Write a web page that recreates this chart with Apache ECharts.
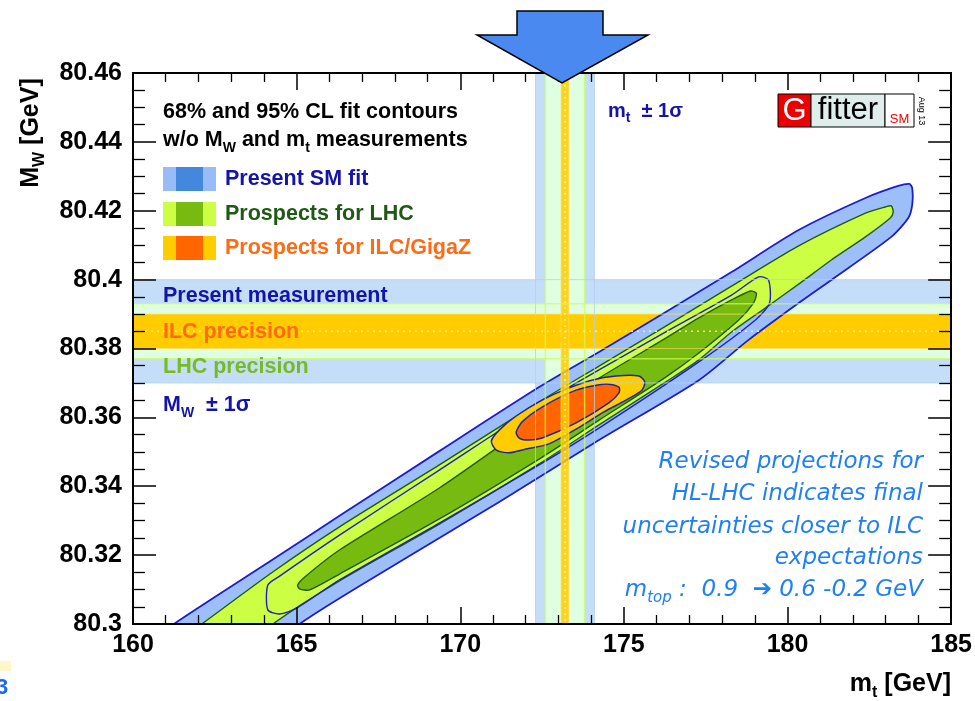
<!DOCTYPE html>
<html><head><meta charset="utf-8">
<script src="https://cdn.jsdelivr.net/npm/echarts@6/dist/echarts.min.js"></script>
<style>html,body{margin:0;padding:0;background:#fff}#c{width:975px;height:701px}</style>
</head><body><div id="c"></div>
<script>
// ---- axis ranges / ticks ----
const xRange = [160, 185];
const yRange = [80.30, 80.46];
const xTickStep = 5;
const yTickStep = 0.02;

// ---- measurement bands ----
const mwCenter = 80.385;
const mwErrPresent = 0.015;
const mwErrLHC = 0.008;
const mwErrILC = 0.005;
const mtCenter = 173.2;
const mtErrPresent = 0.9;
const mtErrLHC = 0.6;
const mtErrILC = 0.12;

// ---- fit contours [mt, MW] ----
const smFit95 = [[160.67,80.2954],[161.25,80.3000],[164.27,80.3187],[166.31,80.3314],[169.36,80.3502],[172.41,80.3688],[174.24,80.3790],[176.28,80.3906],[178.29,80.4022],[180.34,80.4144],[182.38,80.4237],[183.38,80.4272],[183.72,80.4278],[183.81,80.4266],[183.81,80.4217],[183.69,80.4179],[183.17,80.4124],[181.34,80.3999],[180.34,80.3932],[178.81,80.3825],[177.29,80.3708],[174.24,80.3534],[171.19,80.3354],[168.14,80.3180],[165.09,80.3000],[164.79,80.2954]];
const smFit68 = [[164.12,80.3041],[164.12,80.3113],[164.48,80.3139],[166.31,80.3258],[169.36,80.3447],[172.41,80.3636],[174.24,80.3738],[176.28,80.3848],[178.29,80.3955],[179.12,80.4008],[179.42,80.3999],[179.45,80.3932],[179.02,80.3883],[177.29,80.3761],[174.24,80.3569],[172.41,80.3462],[169.36,80.3293],[166.31,80.3128],[165.00,80.3046],[164.48,80.3029]];
const lhc95 = [[161.43,80.2954],[162.10,80.3000],[164.27,80.3151],[166.31,80.3282],[169.36,80.3462],[172.41,80.3645],[174.24,80.3749],[176.28,80.3865],[178.29,80.3981],[180.34,80.4098],[182.38,80.4193],[182.99,80.4211],[183.17,80.4214],[183.23,80.4196],[183.14,80.4179],[182.38,80.4124],[181.34,80.4057],[180.34,80.3987],[179.33,80.3918],[178.29,80.3848],[177.29,80.3767],[176.28,80.3703],[174.24,80.3578],[172.41,80.3465],[169.36,80.3290],[166.31,80.3125],[164.27,80.3000],[163.76,80.2954]];
const lhc68 = [[165.03,80.3113],[165.24,80.3136],[166.31,80.3215],[169.36,80.3395],[172.41,80.3598],[174.24,80.3714],[176.28,80.3830],[177.29,80.3889],[178.29,80.3941],[178.87,80.3967],[179.05,80.3960],[178.96,80.3932],[178.51,80.3883],[177.29,80.3787],[176.28,80.3717],[174.24,80.3592],[172.41,80.3479],[169.36,80.3305],[166.31,80.3145],[165.40,80.3099],[165.09,80.3102]];
const ilc95 = [[170.95,80.3531],[171.10,80.3505],[171.49,80.3497],[172.01,80.3508],[172.71,80.3523],[173.54,80.3566],[174.39,80.3616],[175.06,80.3650],[175.55,80.3679],[175.64,80.3703],[175.46,80.3720],[174.76,80.3720],[174.02,80.3708],[173.23,80.3682],[172.50,80.3650],[171.71,80.3604],[171.19,80.3563]];
const ilc68 = [[171.71,80.3557],[171.80,80.3540],[172.10,80.3534],[172.50,80.3540],[173.54,80.3584],[174.54,80.3642],[174.85,80.3671],[174.85,80.3688],[174.45,80.3697],[173.54,80.3679],[172.50,80.3630],[171.89,80.3587]];

const FONT = 'Liberation Sans, Arial, Helvetica, sans-serif';
const BLUE_TXT = '#1414a8';
const ANN = '#1f7ff5';

function clipOf(cs){ return {type:'rect', shape:{x:cs.x, y:cs.y, width:cs.width, height:cs.height}}; }

function polySeries(pts, fill, stroke, lw, z){
  return {type:'custom', z, data: pts, encode:{x:0,y:1}, silent:true, animation:false,
    renderItem(params, api){
      if (params.dataIndex !== 0) return null;
      return {type:'polygon', shape:{points: pts.map(p => api.coord(p)), smooth:0.25},
        style:{fill: fill || 'none', stroke: stroke, lineWidth: lw},
        clipPath: clipOf(params.coordSys)};
    }};
}
// band: dir 'h' (MW) or 'v' (mt)
function bandSeries(dir, lo, hi, fill, opacity, z){
  return {type:'custom', z, data:[[lo,hi]], silent:true, animation:false,
    renderItem(params, api){
      const cs = params.coordSys;
      let shape;
      if (dir === 'h'){
        const y1 = api.coord([xRange[0], hi])[1], y2 = api.coord([xRange[0], lo])[1];
        shape = {x:cs.x, y:y1, width:cs.width, height:y2-y1};
      } else {
        const x1 = api.coord([lo, yRange[0]])[0], x2 = api.coord([hi, yRange[0]])[0];
        shape = {x:x1, y:cs.y, width:x2-x1, height:cs.height};
      }
      return {type:'rect', shape, style:{fill, opacity}, clipPath: clipOf(cs)};
    }};
}
function lineSeries(dir, vals, color, lw, dash, opacity, z){
  return {type:'custom', z, data: vals.map(v => [v]), silent:true, animation:false,
    renderItem(params, api){
      const cs = params.coordSys, v = api.value(0);
      let shape;
      if (dir === 'h'){ const y = api.coord([xRange[0], v])[1]; shape = {x1:cs.x, y1:y, x2:cs.x+cs.width, y2:y}; }
      else { const x = api.coord([v, yRange[0]])[0]; shape = {x1:x, y1:cs.y, x2:x, y2:cs.y+cs.height}; }
      return {type:'line', shape, style:{stroke:color, lineWidth:lw, lineDash: dash, opacity}, clipPath: clipOf(cs)};
    }};
}

const series = [
  bandSeries('h', mwCenter-mwErrPresent, mwCenter+mwErrPresent, '#c4def9', 1, 1),
  bandSeries('v', mtCenter-mtErrPresent, mtCenter+mtErrPresent, '#c4def9', 1, 1),
  bandSeries('h', mwCenter-mwErrLHC, mwCenter+mwErrLHC, '#e0ffe0', 1, 1),
  bandSeries('v', mtCenter-mtErrLHC, mtCenter+mtErrLHC, '#e0ffe0', 1, 1),
  bandSeries('h', mwCenter-mwErrILC, mwCenter+mwErrILC, '#ffcc00', 1, 1),
  polySeries(smFit95, '#9dbff9', '#1c1cd0', 1.8, 2),
  polySeries(lhc95, '#ccff44', '#1e5a14', 1.4, 2),
  polySeries(lhc68, '#77bb11', '#1e5a14', 1.4, 2),
  polySeries(smFit68, null, '#2020c0', 1.4, 2),
  polySeries(ilc95, '#ffcc00', '#22229a', 1.5, 2),
  polySeries(ilc68, '#ff6600', '#22229a', 1.5, 2),
  bandSeries('v', mtCenter-mtErrILC, mtCenter+mtErrILC, '#ffcc00', 0.85, 3),
  lineSeries('h', [mwCenter-mwErrPresent, mwCenter+mwErrPresent], '#b2d0f2', 1, null, 0.8, 3),
  lineSeries('v', [mtCenter-mtErrPresent, mtCenter+mtErrPresent], '#b2d0f2', 1, null, 0.8, 3),
  lineSeries('h', [mwCenter-mwErrLHC, mwCenter+mwErrLHC], '#ccff55', 1.5, null, 0.7, 3),
  lineSeries('v', [mtCenter-mtErrLHC, mtCenter+mtErrLHC], '#ccff55', 1.5, null, 0.7, 3),
  lineSeries('h', [mwCenter-mwErrILC, mwCenter+mwErrILC], '#ffe066', 1.2, null, 0.6, 3),
  lineSeries('v', [mtCenter-mtErrILC, mtCenter+mtErrILC], '#ffe066', 1.2, null, 0.6, 3),
  lineSeries('h', [mwCenter], '#fff2a0', 1.5, [2,4], 0.9, 3),
  lineSeries('v', [mtCenter], '#fff2a0', 1.5, [2,4], 0.9, 3)
];

const tickLbl = {fontFamily: FONT, fontWeight:'bold', fontSize:25, color:'#000'};
function xAxisDef(pos, showLabel){
  return {type:'value', position:pos, min:xRange[0], max:xRange[1], interval:xTickStep, z:10,
    axisLine:{show:true, lineStyle:{color:'#000', width:2}},
    axisTick:{show:true, inside:true, length:17, lineStyle:{color:'#000', width:1.5}},
    minorTick:{show:true, splitNumber:5, length:9, lineStyle:{color:'#000', width:1.3}},
    splitLine:{show:false}, minorSplitLine:{show:false},
    axisLabel:{show:showLabel, margin:9, ...tickLbl}};
}
function yAxisDef(pos, showLabel){
  return {type:'value', position:pos, min:yRange[0], max:yRange[1], interval:yTickStep, z:10,
    axisLine:{show:true, lineStyle:{color:'#000', width:2}},
    axisTick:{show:true, inside:true, length:23, lineStyle:{color:'#000', width:1.5}},
    minorTick:{show:true, splitNumber:4, length:12, lineStyle:{color:'#000', width:1.3}},
    splitLine:{show:false}, minorSplitLine:{show:false},
    axisLabel:{show:showLabel, margin:11, ...tickLbl, formatter: v => String(parseFloat(v.toFixed(2)))}};
}

function txt(x, y, text, opts){
  return {type:'text', x, y, z:100, silent:true, style:Object.assign({text, fontFamily:FONT, fontWeight:'bold', fontSize:21.5, fill:'#000', align:'left', verticalAlign:'middle'}, opts||{})};
}
function richSub(size, subSize, color){
  return {
    a:{fontFamily:FONT, fontWeight:'bold', fontSize:size, fill:color, lineHeight:size+8},
    s:{fontFamily:FONT, fontWeight:'bold', fontSize:subSize, fill:color, lineHeight:subSize, verticalAlign:'bottom'}
  };
}
function swatch(y, light, dark){
  return [
    {type:'rect', z:100, silent:true, shape:{x:163, y, width:53, height:24}, style:{fill:light}},
    {type:'rect', z:101, silent:true, shape:{x:176, y, width:27, height:24}, style:{fill:dark}}
  ];
}
const annStyle = {fontFamily:'DejaVu Sans', fontWeight:'normal', fontStyle:'italic', fontSize:23, fill:ANN, align:'right'};

const graphics = [
  // arrow
  {type:'polygon', z:100, silent:true, shape:{points:[[517,11],[603,11],[603,35],[648,35],[562,83],[477,35],[517,35]]},
    style:{fill:'#4a8af0', stroke:'#000', lineWidth:1.5}},
  txt(163, 112, '68% and 95% CL fit contours'),
  {type:'text', x:163, y:140, z:100, silent:true, style:{text:'{a|w/o M}{s|W}{a| and m}{s|t}{a| measurements}', align:'left', verticalAlign:'middle', rich: richSub(21.5, 14, '#000')}},
  ...swatch(167, '#99bbf8', '#4488dd'),
  ...swatch(202, '#ccff44', '#77bb11'),
  ...swatch(236, '#ffcc00', '#ff6600'),
  txt(225, 179, 'Present SM fit', {fill:BLUE_TXT}),
  txt(225, 214, 'Prospects for LHC', {fill:'#1e5a14'}),
  txt(225, 248, 'Prospects for ILC/GigaZ', {fill:'#ff6a13'}),
  txt(163, 296, 'Present measurement', {fill:BLUE_TXT}),
  txt(163, 332, 'ILC precision', {fill:'#ff6a13'}),
  txt(163, 367, 'LHC precision', {fill:'#77bb22'}),
  {type:'text', x:163, y:405, z:100, silent:true, style:{text:'{a|M}{s|W}{a|  ± 1σ}', align:'left', verticalAlign:'middle', rich: richSub(21.5, 14, BLUE_TXT)}},
  {type:'text', x:608, y:111, z:100, silent:true, style:{text:'{a|m}{s|t}{a|  ± 1σ}', align:'left', verticalAlign:'middle', rich: richSub(20, 14, BLUE_TXT)}},
  // annotation
  txt(923, 462, 'Revised projections for', annStyle),
  txt(923, 494, 'HL-LHC indicates final', annStyle),
  txt(923, 527, 'uncertainties closer to ILC', annStyle),
  txt(923, 558, 'expectations', annStyle),
  {type:'text', x:923, y:590, z:100, silent:true, style:{text:'{a|m}{s|top}{a| :  0.9  ➔ 0.6 -0.2 GeV}', align:'right', verticalAlign:'middle',
    rich:{a:{fontFamily:'DejaVu Sans', fontStyle:'italic', fontSize:23, fill:ANN, lineHeight:31},
          s:{fontFamily:'DejaVu Sans', fontStyle:'italic', fontSize:15, fill:ANN, lineHeight:15, verticalAlign:'bottom'}}}},
  // Gfitter logo
  {type:'rect', z:100, silent:true, shape:{x:778, y:94, width:33, height:33}, style:{fill:'#ee0000', stroke:'#000', lineWidth:1}},
  {type:'rect', z:100, silent:true, shape:{x:811, y:94, width:74, height:33}, style:{fill:'#dfeded', stroke:'#000', lineWidth:1}},
  {type:'rect', z:100, silent:true, shape:{x:885, y:94, width:29, height:33}, style:{fill:'#ffffff', stroke:'#000', lineWidth:1}},
  txt(794.5, 111, 'G', {fontWeight:'normal', fontSize:31, fill:'#fff', align:'center'}),
  txt(848, 110, 'fitter', {fontWeight:'normal', fontSize:31, fill:'#000', align:'center'}),
  txt(899.5, 119, 'SM', {fontWeight:'normal', fontSize:13, fill:'#ee0000', align:'center'}),
  {type:'text', x:921, y:111, rotation:-Math.PI/2, z:100, silent:true, style:{text:'Aug 13', fontFamily:FONT, fontSize:9, fill:'#000', align:'center', verticalAlign:'middle'}},
  // axis titles
  {type:'text', x:31, y:133, rotation:Math.PI/2, z:100, silent:true, style:{text:'{a|M}{s|W}{a| [GeV]}', align:'center', verticalAlign:'middle', rich: richSub(25, 16, '#000')}},
  {type:'text', x:951, y:684, z:100, silent:true, style:{text:'{a|m}{s|t}{a| [GeV]}', align:'right', verticalAlign:'middle', rich: richSub(25, 16, '#000')}},
  // cropped artifacts at lower-left
  {type:'rect', z:100, silent:true, shape:{x:0, y:661, width:11, height:10}, style:{fill:'#fff7c8'}},
  txt(-4, 688, '3', {fontSize:22, fill:'#1a66ff'})
];

const chart = echarts.init(document.getElementById('c'), null, {renderer:'canvas'});
chart.setOption({
  animation:false,
  backgroundColor:'#fff',
  grid:{left:133, right:22, top:73, bottom:77, show:false},
  xAxis:[xAxisDef('bottom', true), xAxisDef('top', false)],
  yAxis:[yAxisDef('left', true), yAxisDef('right', false)],
  series,
  graphic: graphics
});
</script></body></html>
